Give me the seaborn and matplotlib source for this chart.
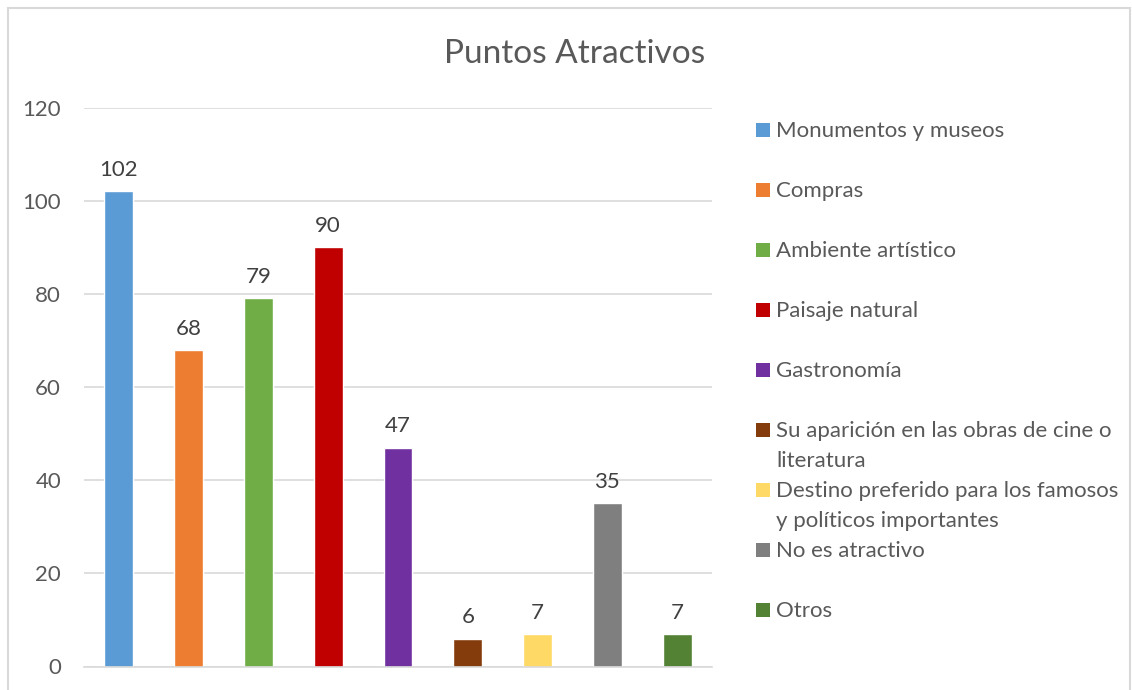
import matplotlib
matplotlib.use("Agg")
import matplotlib.pyplot as plt
from matplotlib.patches import Rectangle
import seaborn as sns

# data
categorias = ["Monumentos y museos", "Compras", "Ambiente artístico", "Paisaje natural",
              "Gastronomía", "Su aparición en las obras de cine o\nliteratura",
              "Destino preferido para los famosos\ny políticos importantes",
              "No es atractivo", "Otros"]
valores = [102, 68, 79, 90, 47, 6, 7, 35, 7]
colores = ["#5B9BD5", "#ED7D31", "#70AD47", "#C00000", "#7030A0",
           "#843C0C", "#FFD966", "#7F7F7F", "#548235"]
ticks_y = [0, 20, 40, 60, 80, 100, 120]

sns.set_style("white")
plt.rcParams["font.family"] = ["Lato", "DejaVu Sans"]

W, H = 1132, 690
fig = plt.figure(figsize=(W / 100, H / 100), dpi=100)
ax = fig.add_axes([84 / W, 1 - 666.5 / H, (712 - 84) / W, (666.5 - 107.5) / H])

sns.barplot(x=list(range(len(valores))), y=valores, hue=list(range(len(valores))),
            palette=colores, legend=False, width=0.415, saturation=1, ax=ax)

ax.set_xlim(-0.5, len(valores) - 0.5)
ax.set_ylim(0, 120)
ax.set_yticks(ticks_y)
ax.set_xticks([])
ax.set_xlabel("")
ax.set_ylabel("")
ax.yaxis.grid(True, color="#D9D9D9", lw=1.2)
ax.set_axisbelow(True)
for s in ["top", "right", "left"]:
    ax.spines[s].set_visible(False)
ax.spines["bottom"].set_color("#D9D9D9")
ax.spines["bottom"].set_linewidth(1.2)
ax.tick_params(axis="y", length=0, pad=16.5, labelsize=16, labelcolor="#595959")

for c in ax.containers:
    ax.bar_label(c, padding=8, fontsize=16, color="#404040")

fig.text(575 / W, 1 - 63 / H, "Puntos Atractivos", ha="center", va="baseline",
         fontsize=24, color="#595959")

# legend, drawn by hand so the marker sits on the first line
ly = 130
for lab, col in zip(categorias, colores):
    fig.add_artist(Rectangle((756 / W, 1 - (ly + 7) / H), 14 / W, 14 / H,
                             transform=fig.transFigure, color=col, lw=0))
    for i, linea in enumerate(lab.split("\n")):
        fig.text(776 / W, 1 - (ly + 7 + 30 * i) / H, linea, ha="left", va="baseline",
                 fontsize=16, color="#595959")
    ly += 60

# chart border
fig.add_artist(Rectangle((8 / W, -0.01), (W - 10) / W, 1 - 8 / H + 0.01,
                         transform=fig.transFigure, fill=False, ec="#D9D9D9", lw=1.5))

fig.savefig("out.png", dpi=100)
